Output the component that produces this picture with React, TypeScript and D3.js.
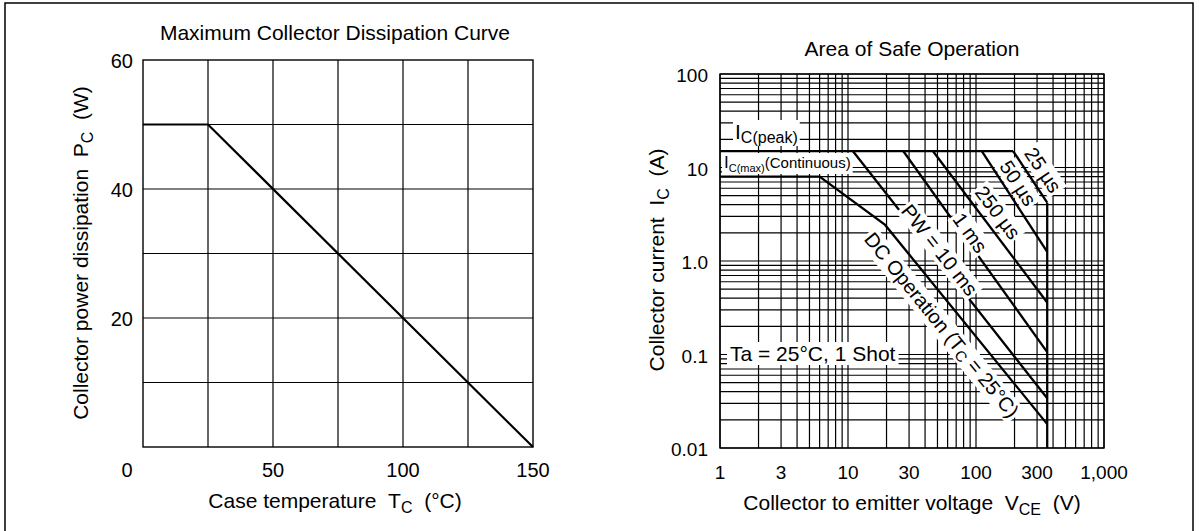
import React, { useEffect, useRef } from 'react';
import * as d3 from 'd3';

// ---- Left chart data: Maximum Collector Dissipation Curve ----
const tempTickValues = [50, 100, 150];
const powerTickValues = [20, 40, 60];
const tempGridValues = [25, 50, 75, 100, 125];
const powerGridValues = [10, 20, 30, 40, 50];
const deratingTemp = [0, 25, 150];
const deratingPower = [50, 50, 0];

// ---- Right chart data: Area of Safe Operation ----
const vTickValues = [1, 3, 10, 30, 100, 300, 1000];
const vTickLabels = ['1', '3', '10', '30', '100', '300', '1,000'];
const iTickValues = [100, 10, 1, 0.1, 0.01];
const iTickLabels = ['100', '10', '1.0', '0.1', '0.01'];

const icPeak = 15;
const vceoLimit = 360;
const pulseNames = ['25 µs', '50 µs', '250 µs', '1 ms', 'PW = 10 ms'];
const pulseStartV = [195, 111, 46, 27, 10.9];
const pulseEndI = [4.2, 1.25, 0.36, 0.106, 0.034];
const pulseLabelV = [334, 213, 148, 90, 52];
const pulseLabelI = [9.4, 6.8, 3.3, 2.0, 1.31];
const dcV = [1, 6, 19.5, 360];
const dcI = [8, 8, 2.43, 0.018];
const dcLabelV = 54;
const dcLabelI = 0.207;

type Seg = { t: string; size: number; dy?: number };
const S2 = '\u00A0\u00A0';

export default function App() {
  const ref = useRef<SVGSVGElement>(null);

  useEffect(() => {
    const svg = d3.select(ref.current!);
    svg.selectAll('*').remove();
    const font = "'Liberation Sans', Arial, sans-serif";
    svg.attr('font-family', font);

    const addText = (
      parent: d3.Selection<any, any, any, any>,
      x: number,
      y: number,
      segs: Seg[],
      anchor = 'start'
    ) => {
      const t = parent.append('text').attr('x', x).attr('y', y).attr('text-anchor', anchor).attr('fill', '#000');
      segs.forEach((s) => {
        const ts = t.append('tspan').attr('font-size', s.size).text(s.t);
        if (s.dy) ts.attr('dy', s.dy);
      });
      return t;
    };
    const addBg = (parent: d3.Selection<any, any, any, any>, t: d3.Selection<any, any, any, any>, pad = 2) => {
      const b = (t.node() as SVGTextElement).getBBox();
      parent
        .insert('rect', () => t.node())
        .attr('x', b.x - pad)
        .attr('y', b.y)
        .attr('width', b.width + pad * 2)
        .attr('height', b.height)
        .attr('fill', '#fff');
    };

    // outer frame
    svg.append('rect').attr('x', 5).attr('y', 3).attr('width', 1188).attr('height', 560)
      .attr('fill', 'none').attr('stroke', '#000').attr('stroke-width', 1.5);

    // ================= LEFT CHART =================
    const L = svg.append('g');
    const x = d3.scaleLinear().domain([0, 150]).range([143, 533]);
    const y = d3.scaleLinear().domain([0, 60]).range([447, 60]);

    L.selectAll('.vg').data(tempGridValues).enter().append('line')
      .attr('x1', (d) => x(d)).attr('x2', (d) => x(d)).attr('y1', y(0)).attr('y2', y(60))
      .attr('stroke', '#000').attr('stroke-width', 1.2);
    L.selectAll('.hg').data(powerGridValues).enter().append('line')
      .attr('y1', (d) => y(d)).attr('y2', (d) => y(d)).attr('x1', x(0)).attr('x2', x(150))
      .attr('stroke', '#000').attr('stroke-width', 1.2);
    L.append('rect').attr('x', x(0)).attr('y', y(60)).attr('width', x(150) - x(0)).attr('height', y(0) - y(60))
      .attr('fill', 'none').attr('stroke', '#000').attr('stroke-width', 1.4);

    const lineL = d3.line<number>().x((_, i) => x(deratingTemp[i])).y((d) => y(d));
    L.append('path').attr('d', lineL(deratingPower)!).attr('fill', 'none').attr('stroke', '#000').attr('stroke-width', 2.2);

    powerTickValues.forEach((v) => {
      addText(L, x(0) - 10, y(v) + 7.5, [{ t: String(v), size: 20 }], 'end');
    });
    addText(L, x(0) - 16, 477, [{ t: '0', size: 20 }], 'middle');
    tempTickValues.forEach((v) => {
      addText(L, x(v), 477, [{ t: String(v), size: 20 }], 'middle');
    });

    addText(L, 335, 40, [{ t: 'Maximum Collector Dissipation Curve', size: 21 }], 'middle');
    addText(L, 335, 508, [
      { t: 'Case temperature' + S2 + 'T', size: 21 },
      { t: 'C', size: 16, dy: 5 },
      { t: S2 + '(°C)', size: 21, dy: -5 },
    ], 'middle');
    const yl = L.append('g').attr('transform', `translate(88,253) rotate(-90)`);
    addText(yl, 0, 0, [
      { t: 'Collector power dissipation' + S2 + 'P', size: 21 },
      { t: 'C', size: 16, dy: 5 },
      { t: S2 + '(W)', size: 21, dy: -5 },
    ], 'middle');

    // ================= RIGHT CHART =================
    const R = svg.append('g');
    const xv = d3.scaleLog().domain([1, 1000]).range([720, 1104]);
    const yi = d3.scaleLog().domain([0.01, 100]).range([448, 74]);

    const vGrid: number[] = [];
    for (let e = 0; e < 3; e++) for (let k = 1; k <= 9; k++) vGrid.push(k * Math.pow(10, e));
    vGrid.push(1000);
    const iGrid: number[] = [];
    for (let e = -2; e < 2; e++) for (let k = 1; k <= 9; k++) iGrid.push(k * Math.pow(10, e));
    iGrid.push(100);

    const gridG = R.append('g');
    gridG.selectAll('.vg').data(vGrid).enter().append('line')
      .attr('x1', (d) => xv(d)).attr('x2', (d) => xv(d)).attr('y1', yi(0.01)).attr('y2', yi(100))
      .attr('stroke', '#000').attr('stroke-width', 1.2);
    gridG.selectAll('.hg').data(iGrid).enter().append('line')
      .attr('y1', (d) => yi(d)).attr('y2', (d) => yi(d)).attr('x1', xv(1)).attr('x2', xv(1000))
      .attr('stroke', '#000').attr('stroke-width', 1.2);
    R.append('rect').attr('x', xv(1)).attr('y', yi(100)).attr('width', xv(1000) - xv(1)).attr('height', yi(0.01) - yi(100))
      .attr('fill', 'none').attr('stroke', '#000').attr('stroke-width', 1.4);

    // labels with white backgrounds (drawn before curves)
    const labG = R.append('g');
    const tPeak = addText(labG, 735, 139, [
      { t: 'I', size: 21 },
      { t: 'C(peak)', size: 16, dy: 4 },
    ]);
    addBg(labG, tPeak, 2);
    const tMax = addText(labG, 724, 168, [
      { t: 'I', size: 17 },
      { t: 'C(max)', size: 11, dy: 4 },
      { t: '(Continuous)', size: 15, dy: -4 },
    ]);
    addBg(labG, tMax, 2);
    const tTa = addText(labG, 730, 361, [{ t: 'Ta = 25°C, 1 Shot', size: 21 }]);
    addBg(labG, tTa, 3);

    const curveStroke = 2.3;
    const lineR = d3.line<[number, number]>().x((d) => xv(d[0])).y((d) => yi(d[1]));

    // peak line
    R.append('path').attr('d', lineR([[1, icPeak], [pulseStartV[0], icPeak]])!)
      .attr('fill', 'none').attr('stroke', '#000').attr('stroke-width', curveStroke);
    // VCEO vertical
    R.append('path').attr('d', lineR([[vceoLimit, pulseEndI[0]], [vceoLimit, 0.01]])!)
      .attr('fill', 'none').attr('stroke', '#000').attr('stroke-width', curveStroke);
    // DC curve
    R.append('path').attr('d', lineR(dcV.map((v, i) => [v, dcI[i]] as [number, number]))!)
      .attr('fill', 'none').attr('stroke', '#000').attr('stroke-width', curveStroke);

    const rotLabel = (name: Seg[], v: number, i: number, ang: number) => {
      const g = R.append('g').attr('transform', `translate(${xv(v)},${yi(i)}) rotate(${ang})`);
      const t = addText(g, 0, 0, name, 'middle').attr('dominant-baseline', 'central');
      addBg(g, t, 2);
    };

    pulseNames.forEach((n, k) => {
      R.append('path').attr('d', lineR([[pulseStartV[k], icPeak], [vceoLimit, pulseEndI[k]]])!)
        .attr('fill', 'none').attr('stroke', '#000').attr('stroke-width', curveStroke);
    });
    pulseNames.forEach((n, k) => {
      const ang = (Math.atan2(yi(pulseEndI[k]) - yi(icPeak), xv(vceoLimit) - xv(pulseStartV[k])) * 180) / Math.PI;
      rotLabel([{ t: n, size: 20 }], pulseLabelV[k], pulseLabelI[k], ang);
    });
    const dcAng = (Math.atan2(yi(dcI[3]) - yi(dcI[2]), xv(dcV[3]) - xv(dcV[2])) * 180) / Math.PI;
    rotLabel([
      { t: 'DC Operation (T', size: 20 },
      { t: 'C', size: 15, dy: 4 },
      { t: ' = 25°C)', size: 20, dy: -4 },
    ], dcLabelV, dcLabelI, dcAng);

    // ticks
    iTickValues.forEach((v, k) => {
      addText(R, 708, yi(v) + 8, [{ t: iTickLabels[k], size: 19 }], 'end');
    });
    vTickValues.forEach((v, k) => {
      addText(R, xv(v), 479, [{ t: vTickLabels[k], size: 19 }], 'middle');
    });

    addText(R, 912, 56, [{ t: 'Area of Safe Operation', size: 21 }], 'middle');
    addText(R, 912, 510, [
      { t: 'Collector to emitter voltage' + S2 + 'V', size: 21 },
      { t: 'CE', size: 16, dy: 5 },
      { t: S2 + '(V)', size: 21, dy: -5 },
    ], 'middle');
    const yr = R.append('g').attr('transform', `translate(664,260) rotate(-90)`);
    addText(yr, 0, 0, [
      { t: 'Collector current' + S2 + 'I', size: 21 },
      { t: 'C', size: 16, dy: 5 },
      { t: S2 + '(A)', size: 21, dy: -5 },
    ], 'middle');
  }, []);

  return (
    <svg
      ref={ref}
      width={1199}
      height={531}
      style={{ position: 'absolute', left: 0, top: 0, background: '#fff' }}
    />
  );
}
